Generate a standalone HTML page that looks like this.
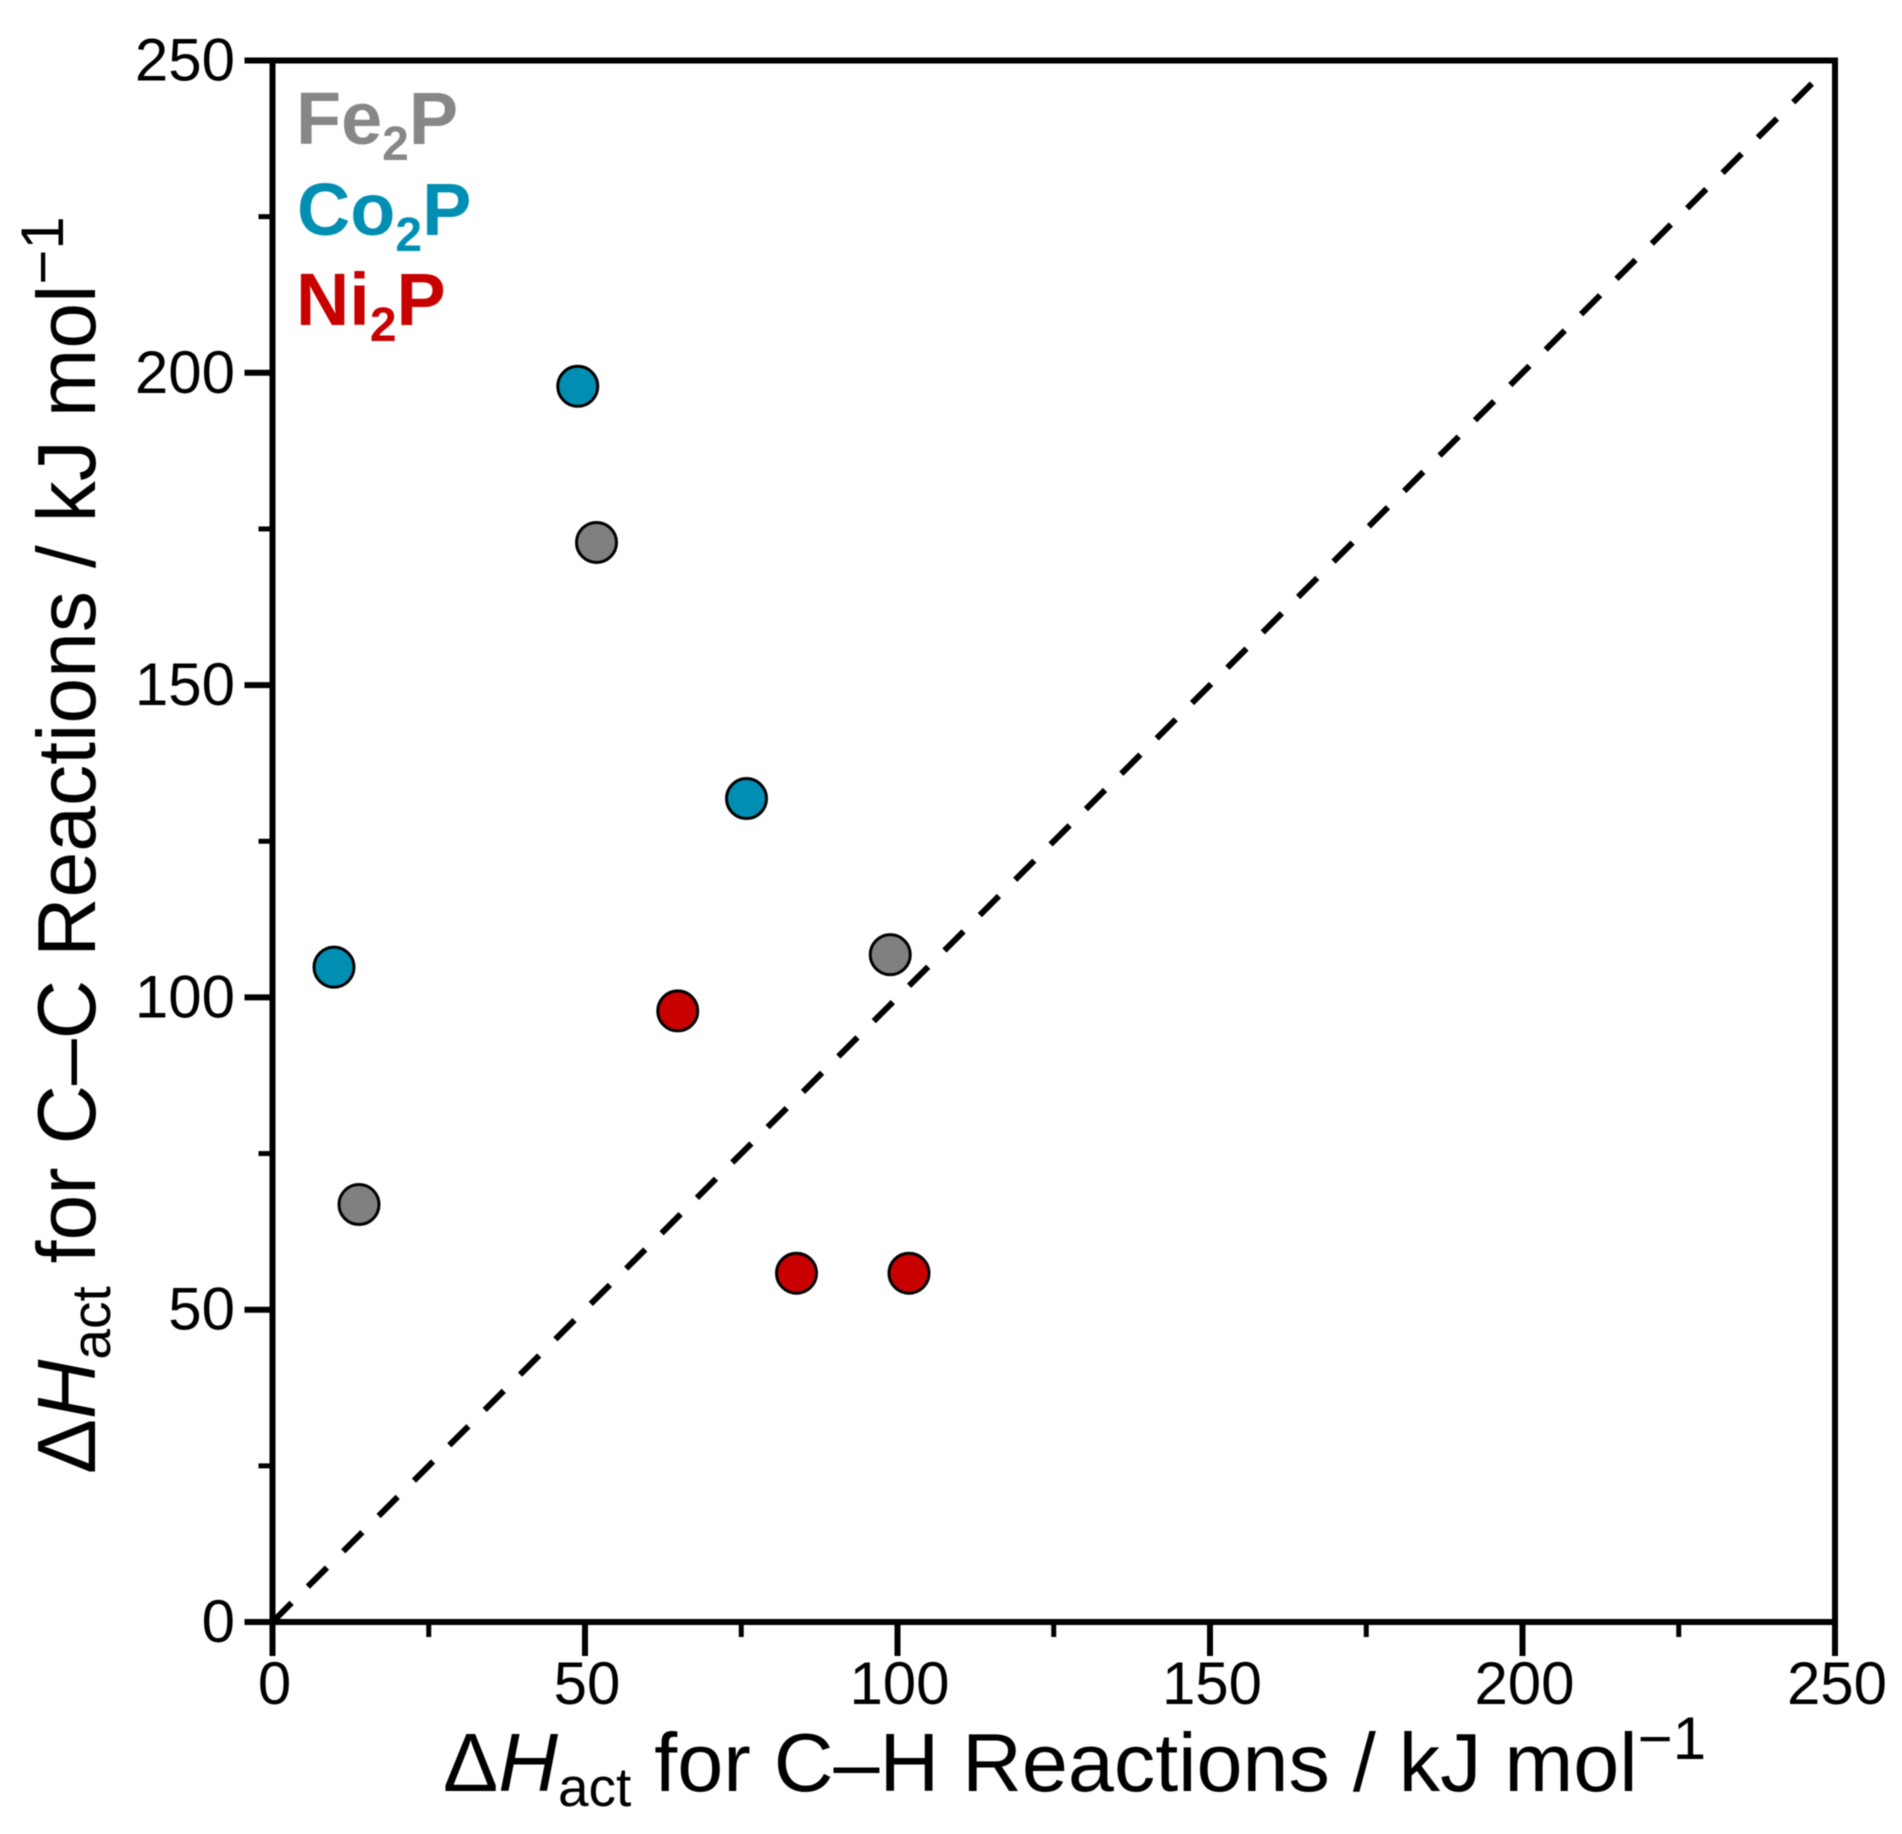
<!DOCTYPE html>
<html>
<head>
<meta charset="utf-8">
<title>C–C vs C–H activation enthalpy</title>
<style>
html,body{margin:0;padding:0;background:#fff;}
svg{display:block;filter:blur(0.6px);}
text{font-family:"Liberation Sans",sans-serif;fill:#000;}
</style>
</head>
<body>
<svg id="chart" xmlns="http://www.w3.org/2000/svg" width="1902" height="1834" viewBox="0 0 1902 1834">
  <rect width="1902" height="1834" fill="#fff"/>
  <g id="axes"></g>
  <g id="marks"></g>
  <text x="443" y="1791" font-size="82.7">Δ<tspan font-style="italic">H</tspan><tspan font-size="55" dy="15">act</tspan><tspan dy="-15"> for C–H Reactions / kJ mol</tspan><tspan font-size="60" dy="-32">−1</tspan></text>
  <text transform="translate(95,1474) rotate(-90)" font-size="82.3">Δ<tspan font-style="italic">H</tspan><tspan font-size="55" dy="15">act</tspan><tspan dy="-15"> for C–C Reactions / kJ mol</tspan><tspan font-size="60" dy="-32">−1</tspan></text>
  <text x="296" y="144" font-size="73.8" font-weight="bold" style="fill:#878787">Fe<tspan font-size="48" dy="16" style="fill:#878787">2</tspan><tspan dy="-16" style="fill:#878787">P</tspan></text>
  <text x="297" y="235" font-size="73.8" font-weight="bold" style="fill:#008fb3">Co<tspan font-size="48" dy="16" style="fill:#008fb3">2</tspan><tspan dy="-16" style="fill:#008fb3">P</tspan></text>
  <text x="296" y="325" font-size="73.8" font-weight="bold" style="fill:#c80000">Ni<tspan font-size="48" dy="16" style="fill:#c80000">2</tspan><tspan dy="-16" style="fill:#c80000">P</tspan></text>
</svg>
<script>
var majorTicks = [0, 50, 100, 150, 200, 250];
var minorTicks = [25, 75, 125, 175, 225];
var tickLabels = ["0", "50", "100", "150", "200", "250"];
var parityLine = [0, 246.3];
var fe2pX = [52, 99, 14];
var fe2pY = [173, 107, 67];
var co2pX = [49, 76, 10];
var co2pY = [198, 132, 105];
var ni2pX = [65, 84, 102];
var ni2pY = [98, 56, 56];

var NS = 'http://www.w3.org/2000/svg';
var plot = {left: 272.5, right: 1835, top: 60.5, bottom: 1622, max: 250};
var markOffset = {x: -1, y: 1};
function sx(v){ return plot.left + (plot.right - plot.left) * v / plot.max; }
function sy(v){ return plot.bottom - (plot.bottom - plot.top) * v / plot.max; }
function make(tag, attrs){
  var el = document.createElementNS(NS, tag);
  for (var k in attrs) el.setAttribute(k, attrs[k]);
  return el;
}
var axes = document.getElementById('axes');
var marks = document.getElementById('marks');

var frame = make('rect', {x: plot.left, y: plot.top, width: plot.right - plot.left, height: plot.bottom - plot.top, fill: 'none', stroke: '#000', 'stroke-width': 6});


axes.appendChild(frame);

majorTicks.forEach(function(v, i){
  var tx = make('line', {x1: sx(v), x2: sx(v), y1: plot.bottom, y2: plot.bottom + 34, stroke: '#000', 'stroke-width': 6});
  
  
  axes.appendChild(tx);
  var ty = make('line', {x1: plot.left - 28, x2: plot.left, y1: sy(v), y2: sy(v), stroke: '#000', 'stroke-width': 6});
  
  
  axes.appendChild(ty);
  var lx = make('text', {x: sx(v) + 2, y: 1704, 'font-size': 60, 'text-anchor': 'middle'});
  lx.textContent = tickLabels[i];
  
  
  axes.appendChild(lx);
  var ly = make('text', {x: 235, y: sy(v) + 20, 'font-size': 60, 'text-anchor': 'end'});
  ly.textContent = tickLabels[i];
  
  
  axes.appendChild(ly);
});
minorTicks.forEach(function(v){
  var tx = make('line', {x1: sx(v), x2: sx(v), y1: plot.bottom, y2: plot.bottom + 15, stroke: '#000', 'stroke-width': 5});
  
  
  axes.appendChild(tx);
  var ty = make('line', {x1: plot.left - 14, x2: plot.left, y1: sy(v), y2: sy(v), stroke: '#000', 'stroke-width': 5});
  
  
  axes.appendChild(ty);
});

var parity = make('line', {x1: sx(parityLine[0]), y1: sy(parityLine[0]), x2: sx(parityLine[1]), y2: sy(parityLine[1]), stroke: '#000', 'stroke-width': 6, 'stroke-dasharray': '27 23'});


marks.appendChild(parity);

function drawSeries(xs, ys, color, name){
  xs.forEach(function(x, i){
    var c = make('circle', {cx: sx(x) + markOffset.x, cy: sy(ys[i]) + markOffset.y, r: 20, fill: color, stroke: '#000', 'stroke-width': 3});
    
    
    marks.appendChild(c);
  });
}
drawSeries(fe2pX, fe2pY, '#808080', 'point-fe2p');
drawSeries(co2pX, co2pY, '#008fb3', 'point-co2p');
drawSeries(ni2pX, ni2pY, '#c80000', 'point-ni2p');
</script>
</body>
</html>
